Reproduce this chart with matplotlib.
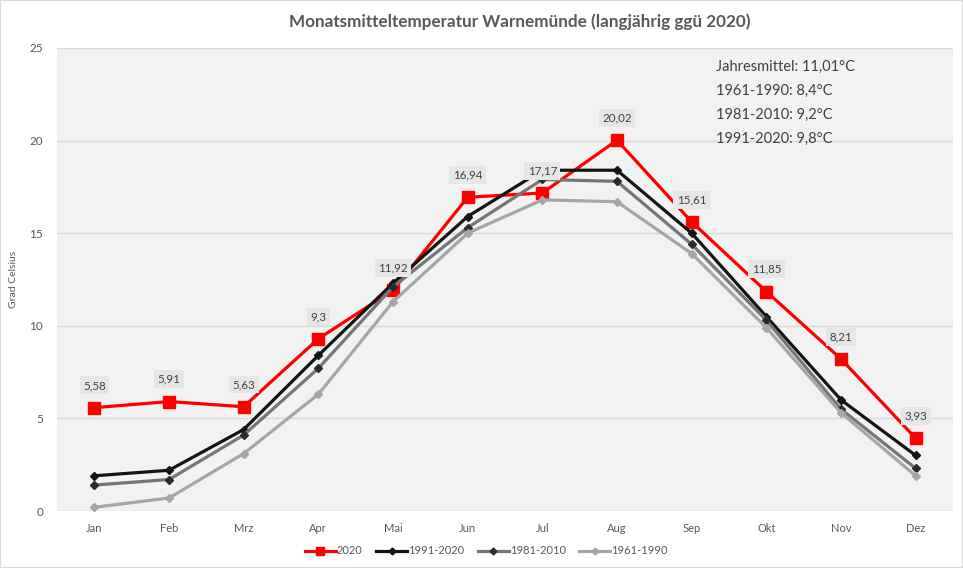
import matplotlib
matplotlib.use("Agg")
import matplotlib.pyplot as plt
from matplotlib.lines import Line2D

plt.rcParams['font.family'] = ['Lato', 'DejaVu Sans']

months = ["Jan", "Feb", "Mrz", "Apr", "Mai", "Jun", "Jul", "Aug", "Sep", "Okt", "Nov", "Dez"]
t2020 = [5.58, 5.91, 5.63, 9.3, 11.92, 16.94, 17.17, 20.02, 15.61, 11.85, 8.21, 3.93]
t1991_2020 = [1.9, 2.2, 4.4, 8.4, 12.3, 15.9, 18.4, 18.4, 15.0, 10.5, 6.0, 3.0]
t1981_2010 = [1.4, 1.7, 4.1, 7.7, 12.1, 15.3, 17.9, 17.8, 14.4, 10.3, 5.5, 2.3]
t1961_1990 = [0.2, 0.7, 3.1, 6.3, 11.3, 15.0, 16.8, 16.7, 13.9, 9.9, 5.3, 1.9]
labels2020 = ["5,58", "5,91", "5,63", "9,3", "11,92", "16,94", "17,17", "20,02", "15,61", "11,85", "8,21", "3,93"]
yticks = [0, 5, 10, 15, 20, 25]
info_lines = ["Jahresmittel: 11,01°C", "1961-1990: 8,4°C", "1981-2010: 9,2°C", "1991-2020: 9,8°C"]

fig = plt.figure(figsize=(9.63, 5.68), dpi=100)
ax_h = (511 - 48) / 568
ax = fig.add_axes([57/963, 1-511/568, 896/963, ax_h])
ax.set_facecolor("#f2f2f2")
x = list(range(len(months)))

ax.plot(x, t2020, color="#ff0000", lw=2.3, marker="s", ms=8.5, mec="#ff0000", mfc="#ff0000", zorder=3, label="2020")
ax.plot(x, t1991_2020, color="#141414", lw=2.3, marker="D", ms=4, mec="#141414", mfc="#141414", zorder=4, label="1991-2020")
ax.plot(x, t1981_2010, color="#767676", lw=2.3, marker="D", ms=4, mec="#2b2b2b", mfc="#2b2b2b", zorder=4, label="1981-2010")
ax.plot(x, t1961_1990, color="#a6a6a6", lw=2.3, marker="D", ms=4, mec="#a6a6a6", mfc="#a6a6a6", zorder=4, label="1961-1990")

for xi, v, lab in zip(x, t2020, labels2020):
    ax.annotate(lab, (xi, v), xytext=(0, 16), textcoords="offset points", ha="center", va="center",
                fontsize=8.3, color="#404040", zorder=6,
                bbox=dict(boxstyle="square,pad=0.3", fc="#e6e6e6", ec="none"))

ax.set_xlim(-0.5, 11.5)
ax.set_ylim(0, 25)
ax.set_yticks(yticks)
ax.set_xticks(x)
ax.set_xticklabels(months)
ax.tick_params(axis="both", length=0, colors="#595959", labelsize=8)
ax.tick_params(axis="y", pad=10, labelsize=8.5)
ax.tick_params(axis="x", pad=9)
ax.grid(axis="y", color="#d9d9d9", lw=1)
ax.set_axisbelow(True)
for s in ax.spines.values():
    s.set_visible(False)
ax.set_ylabel("Grad Celsius", fontsize=7.5, color="#595959", labelpad=8)

step = 24 / 568 / ax_h
for i, line in enumerate(info_lines):
    ax.text(0.7355, (511 - 67) / 463 - i * step, line, transform=ax.transAxes, ha="left", va="center",
            fontsize=10.5, color="#404040")

fig.text(0.54, 0.962, "Monatsmitteltemperatur Warnemünde (langjährig ggü 2020)", ha="center", va="center",
         fontsize=12.3, fontweight="bold", color="#595959")

handles = [Line2D([0], [0], color="#ff0000", lw=2.3, marker="s", ms=6),
           Line2D([0], [0], color="#141414", lw=2.3, marker="D", ms=3.5),
           Line2D([0], [0], color="#767676", lw=2.3, marker="D", ms=3.5, mfc="#2b2b2b", mec="#2b2b2b"),
           Line2D([0], [0], color="#a6a6a6", lw=2.3, marker="D", ms=3.5)]
fig.legend(handles, ["2020", "1991-2020", "1981-2010", "1961-1990"], loc="center", bbox_to_anchor=(0.505, 1-551/568),
           ncol=4, frameon=False, fontsize=8, labelcolor="#595959", handlelength=2.8, handletextpad=0.1, columnspacing=1.2)

border = plt.Rectangle((0, 0), 1, 1, transform=fig.transFigure, fill=False, ec="#d9d9d9", lw=1.5)
fig.patches.append(border)

fig.savefig("out.png", dpi=100)
